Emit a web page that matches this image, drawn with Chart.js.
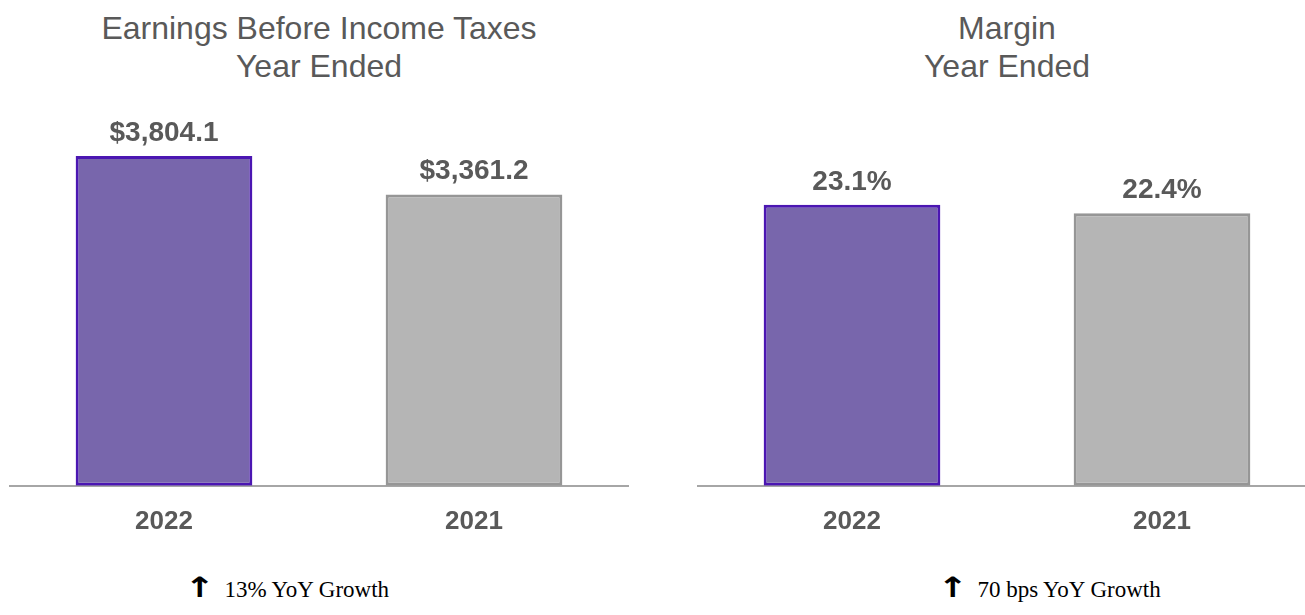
<!DOCTYPE html>
<html>
<head>
<meta charset="utf-8">
<script src="https://cdn.jsdelivr.net/npm/chart.js@4.4.1/dist/chart.umd.min.js"></script>
<style>
  html, body { margin: 0; padding: 0; background: #fff; }
  body { width: 1305px; height: 615px; overflow: hidden; position: relative; font-family: "Liberation Sans", Arial, sans-serif; }
  .box { position: absolute; top: 0; width: 620px; height: 557px; }
  .title { position: absolute; top: 9px; width: 620px; text-align: center; color: #595959; font-size: 32px; line-height: 38px; }
  .foot { position: absolute; top: 576px; font-family: "Liberation Serif", "Times New Roman", serif; font-size: 23px; color: #000; white-space: nowrap; }
  .foot .arr { display: inline-block; font-family: "DejaVu Sans", sans-serif; font-weight: bold; font-size: 28px; line-height: 23px; margin-right: 13px; transform: scaleX(1.3); }
</style>
</head>
<body>
<div class="title" style="left:9px">Earnings Before Income Taxes<br>Year Ended</div>
<div class="title" style="left:697px">Margin<br>Year Ended</div>
<div class="box" style="left:9px"><canvas id="ebit"></canvas></div>
<div class="box" style="left:697px"><canvas id="margin"></canvas></div>
<div class="foot" style="left:188px"><span class="arr">↑</span>13% YoY Growth</div>
<div class="foot" style="left:941px"><span class="arr">↑</span>70 bps YoY Growth</div>
<script>
const years = ['2022', '2021'];
const ebitValues = [3804.1, 3361.2];
const marginValues = [23.1, 22.4];
const fills = ['#7866ac', '#b5b5b5'];
const borders = ['#4b16b2', '#969696'];

// labels above the bars (no datalabels plugin offline)
const valueLabels = {
    id: 'valueLabels',
    afterDatasetsDraw(chart, args, opts) {
        const ctx = chart.ctx;
        const meta = chart.getDatasetMeta(0);
        ctx.save();
        ctx.font = 'bold 28px "Liberation Sans", Arial, sans-serif';
        ctx.fillStyle = '#595959';
        ctx.textAlign = 'center';
        ctx.textBaseline = 'alphabetic';
        meta.data.forEach((bar, i) => {
            const v = chart.data.datasets[0].data[i];
            ctx.fillText(opts.format(v), bar.x, bar.y - 15);
        });
        ctx.restore();
    }
};

function makeChart(id, values, max, format) {
    return new Chart(document.getElementById(id), {
        type: 'bar',
        data: {
            labels: years,
            datasets: [{
                data: values,
                backgroundColor: fills,
                borderColor: borders,
                borderWidth: 3,
                borderSkipped: false,
                barPercentage: 0.57,
                categoryPercentage: 1
            }]
        },
        options: {
            responsive: true,
            maintainAspectRatio: false,
            animation: false,
            layout: { padding: { top: 100, left: 0, right: 0, bottom: 0 } },
            plugins: {
                legend: { display: false },
                tooltip: { enabled: false },
                valueLabels: { format: format }
            },
            scales: {
                x: {
                    grid: { display: false, drawTicks: false },
                    border: { color: '#a6a6a6', width: 2 },
                    ticks: {
                        color: '#595959',
                        padding: 20,
                        font: { family: '"Liberation Sans", Arial, sans-serif', size: 26, weight: 'bold' }
                    }
                },
                y: { display: false, min: 0, max: max }
            }
        },
        plugins: [valueLabels]
    });
}

makeChart('ebit', ebitValues, 4450, v => '$' + v.toLocaleString('en-US', { minimumFractionDigits: 1, maximumFractionDigits: 1 }));
makeChart('margin', marginValues, 31.7, v => v.toFixed(1) + '%');
</script>
</body>
</html>
